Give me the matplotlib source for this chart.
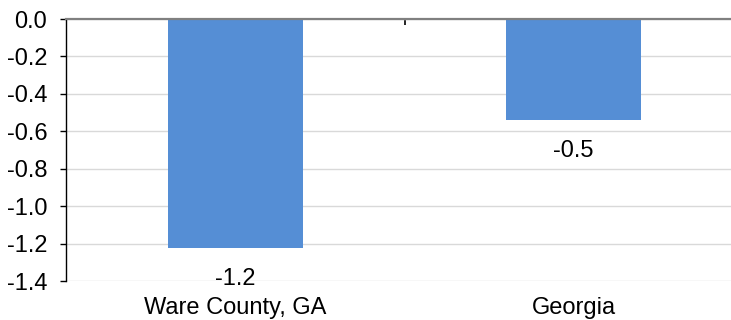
import matplotlib.pyplot as plt
import numpy as np

plt.rcParams['font.family'] = ['Liberation Sans', 'DejaVu Sans']

categories = ['Ware County, GA', 'Georgia']
values = [-1.224, -0.54]
value_labels = ['-1.2', '-0.5']
yticks = [0.0, -0.2, -0.4, -0.6, -0.8, -1.0, -1.2, -1.4]

fig = plt.figure(figsize=(7.31, 3.2), dpi=100)
ax = fig.add_axes([66/731, 1 - 281/320, 677/731, 262/320])

x = np.arange(len(categories))
ax.bar(x, values, width=0.40, color='#558ed5', zorder=2)

ax.set_xlim(-0.5, 1.5)
ax.set_ylim(-1.4, 0.0)
ax.set_yticks(yticks)
ax.set_yticklabels(['%.1f' % t for t in yticks], fontsize=17)
ax.grid(axis='y', color='#d9d9d9', linewidth=1, zorder=0)

# x axis sits at zero (top), tick between categories
ax.xaxis.tick_top()
ax.set_xticks([0.5])
ax.set_xticklabels([])
ax.tick_params(axis='x', direction='in', length=4.5, width=1.2, color='black')
ax.tick_params(axis='y', direction='out', length=4.5, width=1, color='black', pad=9)

for s in ['right', 'bottom']:
    ax.spines[s].set_visible(False)
ax.spines['top'].set_color('#808080')
ax.spines['top'].set_linewidth(1.6)
ax.spines['top'].set_zorder(3)
ax.spines['left'].set_color('black')
ax.spines['left'].set_linewidth(1)

for xi, v, lab in zip(x, values, value_labels):
    ax.annotate(lab, (xi, v), xytext=(0, -14), textcoords='offset points',
                ha='center', va='top', fontsize=17)

for xi, c in zip(x, categories):
    ax.annotate(c, (xi, -1.4), xytext=(0, -11.5), textcoords='offset points',
                ha='center', va='top', fontsize=17, annotation_clip=False)

fig.savefig('out.png', dpi=100)
